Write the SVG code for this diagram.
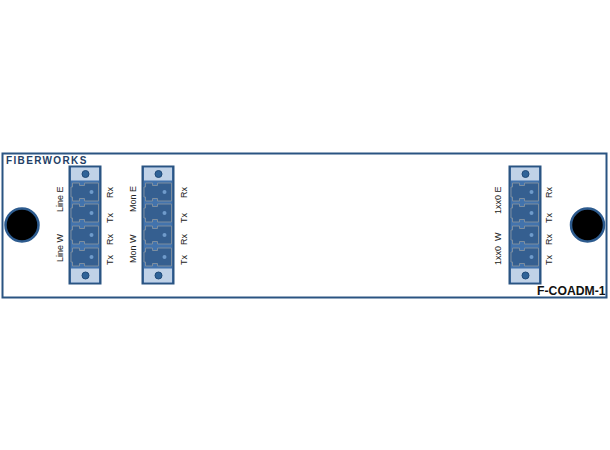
<svg xmlns="http://www.w3.org/2000/svg" width="610" height="450" viewBox="0 0 610 450">
<style>
text{font-family:"Liberation Sans",Arial,sans-serif;font-size:9px;fill:#222}
.body{fill:#4273ad;stroke:#2a5482;stroke-width:2}
.cap{fill:#c0d2e7}
.screw{fill:#2f6398;stroke:#1f4a78;stroke-width:1}
.port{fill:#355f90;stroke:#7d8e9f;stroke-width:1}
.dot{fill:#6f9bcb}
.hole{fill:#000;stroke:#2d5b8e;stroke-width:2.500}
</style>
<defs>
<g id="port"><path class="port" d="M3 .5h7v2.500h5v-2.500h14v18h-14v-2.500h-5v2.500h-7v-4h-1.500v-10h1.500z"/><circle class="dot" cx="22" cy="9.500" r="2"/></g>
<g id="mod">
<rect class="body" x="0" y="0" width="31" height="117"/>
<rect class="cap" x="1.500" y="1" width="28" height="13"/>
<rect class="cap" x="1.500" y="102" width="28" height="14"/>
<circle class="screw" cx="16" cy="7.500" r="3.500"/>
<circle class="screw" cx="16" cy="109" r="3.500"/>
<use href="#port" x="0" y="16"/>
<use href="#port" x="0" y="37"/>
<use href="#port" x="0" y="59"/>
<use href="#port" x="0" y="81"/>
</g>
</defs>
<rect width="610" height="450" fill="#fff"/>
<g id="panel">
<rect x="2.500" y="153.500" width="604" height="144" fill="#fff" stroke="#2a5482" stroke-width="2"/>
<text x="6" y="164" style="font-size:10px;font-weight:bold;letter-spacing:1.350px;fill:#1f3f66">FIBERWORKS</text>
<text x="605.500" y="295" text-anchor="end" style="font-size:12.200px;font-weight:bold;fill:#111">F-COADM-1</text>
</g>
<g id="hole-left"><circle class="hole" cx="22" cy="225" r="16.500"/></g>
<g id="hole-right"><circle class="hole" cx="587.500" cy="225" r="16.500"/></g>
<g id="module-line">
<use href="#mod" x="69.500" y="166.500"/>
<text transform="translate(63,212) rotate(-90)">Line E</text>
<text transform="translate(63,262) rotate(-90)">Line W</text>
<text transform="translate(113,198) rotate(-90)">Rx</text>
<text transform="translate(113,223) rotate(-90)">Tx</text>
<text transform="translate(113,245) rotate(-90)">Rx</text>
<text transform="translate(113,265) rotate(-90)">Tx</text>
</g>
<g id="module-mon">
<use href="#mod" x="142.500" y="166.500"/>
<text transform="translate(136,212) rotate(-90)">Mon E</text>
<text transform="translate(136,263) rotate(-90)">Mon W</text>
<text transform="translate(187,198) rotate(-90)">Rx</text>
<text transform="translate(187,223) rotate(-90)">Tx</text>
<text transform="translate(187,245) rotate(-90)">Rx</text>
<text transform="translate(187,265) rotate(-90)">Tx</text>
</g>
<g id="module-1xx0">
<use href="#mod" x="509.500" y="166.500"/>
<text transform="translate(501,214) rotate(-90)">1xx0 E</text>
<text transform="translate(501,265) rotate(-90)" xml:space="preserve">1xx0  W</text>
<text transform="translate(552,198) rotate(-90)">Rx</text>
<text transform="translate(552,223) rotate(-90)">Tx</text>
<text transform="translate(552,245) rotate(-90)">Rx</text>
<text transform="translate(552,265) rotate(-90)">Tx</text>
</g>
</svg>
